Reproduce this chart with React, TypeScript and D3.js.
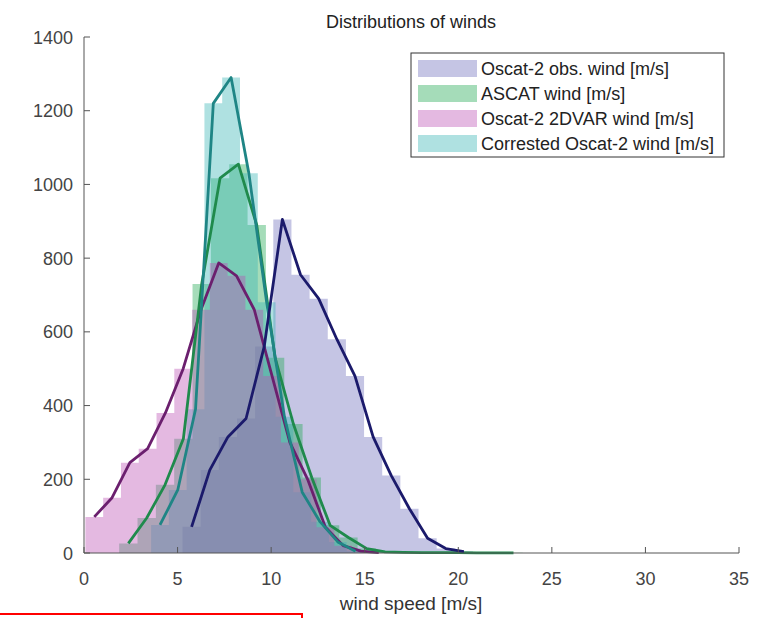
import React from "react";
import * as d3 from "d3";

// ---------- data ----------
const obsSpeed = [5.75, 6.72, 7.69, 8.66, 9.63, 10.6, 11.57, 12.54, 13.51, 14.48, 15.45, 16.42, 17.39, 18.36, 19.33, 20.3];
const obsCount = [71, 225, 315, 365, 560, 905, 755, 690, 580, 480, 315, 210, 120, 40, 12, 4];

const ascatSpeed = [2.37, 3.35, 4.33, 5.31, 6.29, 7.27, 8.25, 9.23, 10.21, 11.19, 12.17, 13.15, 14.13, 15.11, 16.09, 17.07, 18.05, 19.03, 20.01, 20.99, 21.97, 22.95];
const ascatCount = [26, 95, 185, 310, 730, 1017, 1055, 890, 530, 350, 205, 75, 42, 12, 3, 1.5, 1, 1, 0.8, 0.6, 0.5, 0.4];

const dvarSpeed = [0.55, 1.5, 2.45, 3.4, 4.35, 5.3, 6.25, 7.2, 8.15, 9.1, 10.05, 11.0, 11.95, 12.9, 13.85, 14.8, 15.75];
const dvarCount = [98, 150, 245, 283, 380, 500, 660, 787, 752, 660, 480, 300, 200, 70, 20, 5, 1];

const corrSpeed = [4.06, 5.01, 5.96, 6.91, 7.86, 8.81, 9.76, 10.71, 11.66, 12.61, 13.56, 14.51];
const corrCount = [76, 171, 390, 1220, 1290, 1030, 680, 370, 165, 85, 30, 5];

const xTicks = [0, 5, 10, 15, 20, 25, 30, 35];
const yTicks = [0, 200, 400, 600, 800, 1000, 1200, 1400];

const seriesNames = [
  "Oscat-2 obs. wind [m/s]",
  "ASCAT wind [m/s]",
  "Oscat-2 2DVAR wind [m/s]",
  "Corrested Oscat-2 wind [m/s]",
];
const fillColors = ["#6e6ebc", "#1ea750", "#bb50b4", "#37b4b4"];
const lineColors = ["#1b1a6b", "#1f8a4c", "#6b1f6e", "#1f8585"];

const W = 769;
const H = 618;
const FONT = "'Liberation Sans', Arial, Helvetica, sans-serif";

export default function App() {
  const x = d3.scaleLinear().domain([0, 35]).range([84, 739]);
  const y = d3.scaleLinear().domain([0, 1400]).range([553, 37]);

  const series = [
    { s: obsSpeed, c: obsCount },
    { s: ascatSpeed, c: ascatCount },
    { s: dvarSpeed, c: dvarCount },
    { s: corrSpeed, c: corrCount },
  ];

  const stepPts = (s: number[], c: number[]) => {
    const pts: { v: number; n: number }[] = [];
    s.forEach((v, i) => {
      const left = i === 0 ? v - (s[1] - s[0]) / 2 : (s[i - 1] + v) / 2;
      const right = i === s.length - 1 ? v + (v - s[i - 1]) / 2 : (v + s[i + 1]) / 2;
      pts.push({ v: Math.max(0, left), n: c[i] });
      pts.push({ v: right, n: c[i] });
    });
    return pts;
  };

  const area = d3
    .area<{ v: number; n: number }>()
    .x((d) => x(d.v))
    .y0(y(0))
    .y1((d) => y(d.n));

  const linePath = (s: number[], c: number[]) =>
    d3.line<number>().x((v) => x(v)).y((_, i) => y(c[i]))(s) || "";

  const fillOrder = [0, 1, 3, 2];
  const lineOrder = [2, 1, 3, 0];

  return (
    <svg
      width={W}
      height={H}
      style={{ position: "absolute", left: 0, top: 0, background: "#fff" }}
      fontFamily={FONT}
    >
      <rect x={0} y={0} width={W} height={H} fill="#fff" />
      {/* histogram fills */}
      {fillOrder.map((i) => (
        <path
          key={"a" + i}
          d={area(stepPts(series[i].s, series[i].c)) || ""}
          fill={fillColors[i]}
          fillOpacity={0.4}
        />
      ))}
      {/* lines */}
      {lineOrder.map((i) => (
        <path
          key={"l" + i}
          d={linePath(series[i].s, series[i].c)}
          fill="none"
          stroke={lineColors[i]}
          strokeWidth={2.8}
          strokeLinejoin="round"
        />
      ))}
      {/* axes */}
      <line x1={84} x2={84} y1={37} y2={553} stroke="#555" strokeWidth={1} />
      <line x1={84} x2={739} y1={553} y2={553} stroke="#555" strokeWidth={1} />
      {yTicks.map((t) => (
        <g key={"y" + t}>
          <line x1={84} x2={90} y1={y(t)} y2={y(t)} stroke="#555" />
          <text x={73} y={y(t) + 6.5} textAnchor="end" fontSize={18} fill="#444">
            {t}
          </text>
        </g>
      ))}
      {xTicks.map((t) => (
        <g key={"x" + t}>
          <line x1={x(t)} x2={x(t)} y1={553} y2={547} stroke="#555" />
          <text x={x(t)} y={585} textAnchor="middle" fontSize={18} fill="#444">
            {t}
          </text>
        </g>
      ))}
      <text x={411} y={28} textAnchor="middle" fontSize={18} fill="#222">
        Distributions of winds
      </text>
      <text x={411} y={610} textAnchor="middle" fontSize={19} fill="#333">
        wind speed [m/s]
      </text>
      {/* legend */}
      <rect x={411} y={53} width={313} height={104} fill="#fff" stroke="#333" strokeWidth={1} />
      {seriesNames.map((n, i) => (
        <g key={"lg" + i}>
          <rect x={418} y={60 + i * 25} width={59} height={17} fill={fillColors[i]} fillOpacity={0.4} />
          <text x={481} y={74.5 + i * 25} fontSize={18} fill="#222">
            {n}
          </text>
        </g>
      ))}
      {/* red annotation box edge */}
      <path d="M0,614 H302 V619" fill="none" stroke="#ff0000" strokeWidth={2} />
    </svg>
  );
}
